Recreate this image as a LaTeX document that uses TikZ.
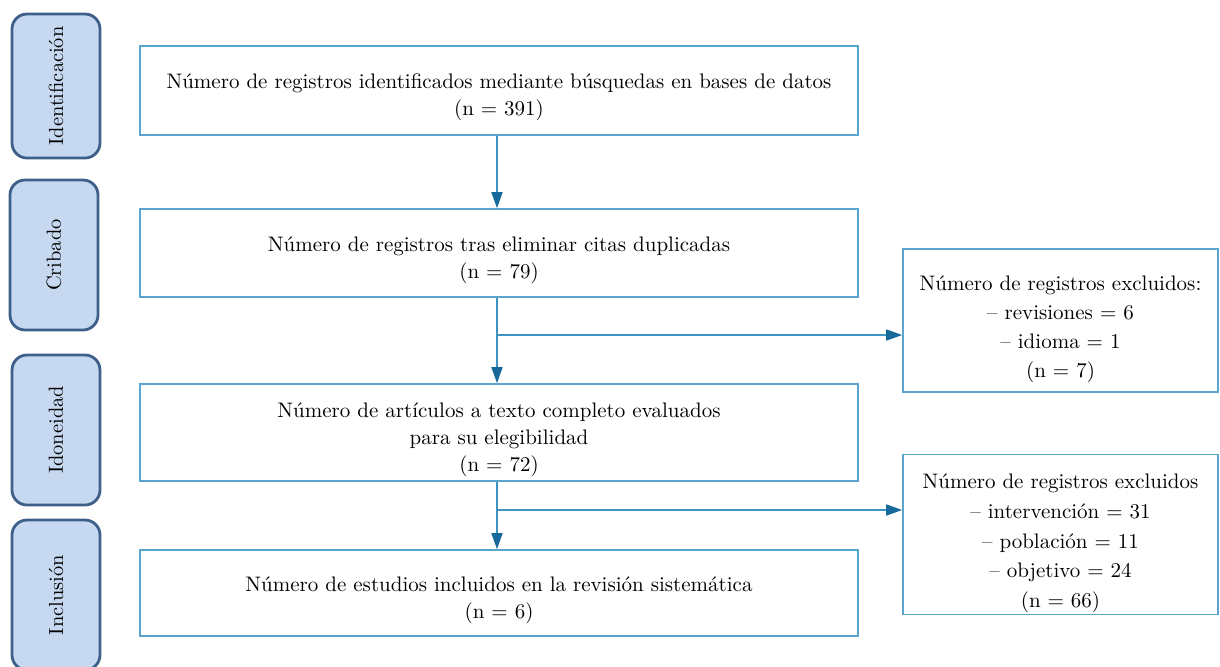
\documentclass[tikz,border=0pt]{standalone}
\usetikzlibrary{arrows.meta}
\definecolor{tabfill}{HTML}{C6D9F0}
\definecolor{tabline}{HTML}{3E5F8A}
\definecolor{boxline}{HTML}{5AA5CC}
\definecolor{arrline}{HTML}{3D93C2}
\definecolor{arrhead}{HTML}{17699B}

\begin{document}
\begin{tikzpicture}[x=0.5pt,y=-0.5pt,
		main box/.style = {draw=boxline, line width=0.8pt, align=center, minimum width=359pt,
			text depth=0pt, font=\fontsize{10.5}{13.5}\selectfont},
		excl box/.style = {draw=boxline, line width=0.8pt, align=center, minimum width=157.5pt,
			text depth=0pt, font=\fontsize{10.5}{14.9}\selectfont},
		side tab/.style = {draw=tabline, fill=tabfill, line width=1.4pt, rounded corners=7.5pt,
			minimum width=44pt, minimum height=75pt},
		tab text/.style = {rotate=90, font=\fontsize{10.2}{12}\selectfont},
		flow/.style = {draw=arrline, line width=0.8pt, -{Triangle[length=8pt,width=5.5pt,color=arrhead]}}]
		
		\clip (0,0) rectangle (1220,666);
		
		% fases
		\node[side tab,minimum height=72pt] (t1) at (56,86) {};
		\node[side tab] (t2) at (54,255) {};
		\node[side tab] (t3) at (56,430) {};
		\node[side tab] (t4) at (56,595) {};
		\node[tab text] at (t1) {Identificación};
		\node[tab text] at (t2) {Cribado};
		\node[tab text] at (t3) {Idoneidad};
		\node[tab text] at (t4) {Inclusión};
		
		% cajas principales
		\node[main box,minimum height=44.5pt,text height=24.6pt] (b1) at (499,90.5) {Número de registros identificados mediante búsquedas en bases de datos\\(n = 391)};
		\node[main box,minimum height=44pt,text height=25.4pt] (b2) at (499,253) {Número de registros tras eliminar citas duplicadas\\(n = 79)};
		\node[main box,minimum height=48.5pt,text height=39pt] (b3) at (499,432.5) {Número de artículos a texto completo evaluados\\para su elegibilidad\\(n = 72)};
		\node[main box,minimum height=43pt,text height=25.4pt] (b4) at (499,593) {Número de estudios incluidos en la revisión sistemática\\(n = 6)};
		
		% excluidos
		\node[excl box,minimum height=71.5pt,text height=57.1pt,font=\fontsize{10.5}{14.5}\selectfont] (e1) at (1060.5,320.5) {Número de registros excluidos:\\-- revisiones = 6\\-- idioma = 1\\(n = 7)};
		\node[excl box,minimum height=79.5pt,text height=73.2pt] (e2) at (1060.5,534.5) {Número de registros excluidos\\-- intervención = 31\\-- población = 11\\-- objetivo = 24\\(n = 66)};
		
		\coordinate (s1) at (497,335);
		\coordinate (s2) at (497,510);
		
		\draw[flow] (b1.south -| s1) -- (b2.north -| s1);
		\draw[flow] (b2.south -| s1) -- (b3.north -| s1);
		\draw[flow] (b3.south -| s2) -- (b4.north -| s2);
		\draw[flow] (s1) -- (s1 -| e1.west);
		\draw[flow] (s2) -- (s2 -| e2.west);
		\end{tikzpicture}
\end{document}
